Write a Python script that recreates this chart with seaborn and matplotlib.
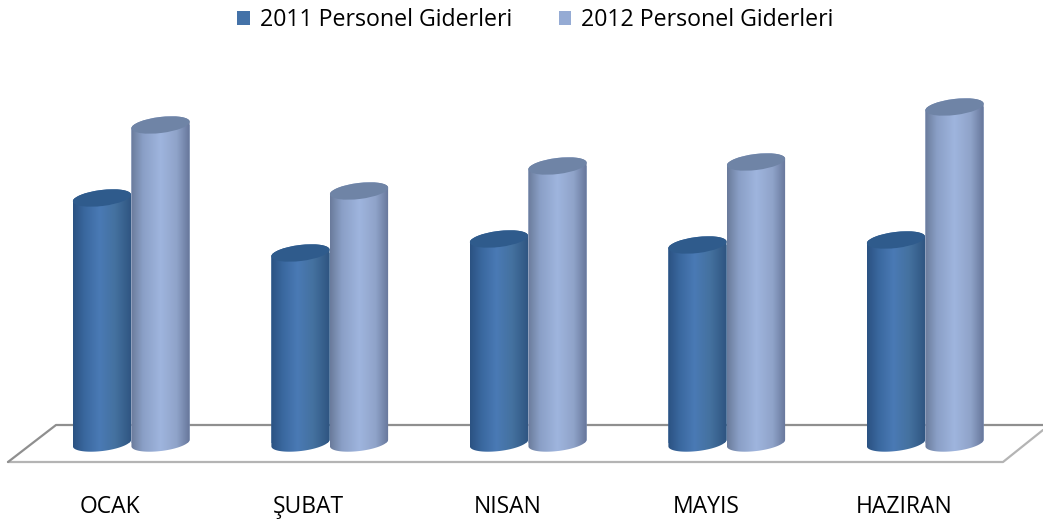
#!/usr/bin/env python3
# -*- coding: utf-8 -*-
import numpy as np
import pandas as pd
import matplotlib
matplotlib.use("Agg")
import matplotlib.pyplot as plt
from matplotlib.colors import LinearSegmentedColormap
from matplotlib.path import Path
from matplotlib.patches import Ellipse
from matplotlib.transforms import IdentityTransform, ScaledTranslation
import seaborn as sns

# === data ===
months = ["OCAK", "ŞUBAT", "NISAN", "MAYIS", "HAZIRAN"]
giderler_2011 = [245, 190, 204, 198, 203]
giderler_2012 = [318, 252, 277, 281, 336]
series_names = ["2011 Personel Giderleri", "2012 Personel Giderleri"]

# === style ===
W, H = 1043, 519
BASE_COLORS = ["#4472a8", "#95abd4"]
GRADIENTS = [
    [(0, "#2b5282"), (0.2, "#3a689f"), (0.45, "#4a7ab5"), (0.72, "#44719f"), (1, "#2e5480")],
    [(0, "#6a7b9b"), (0.2, "#8a9fc6"), (0.5, "#9fb5de"), (0.78, "#8fa3c9"), (1, "#66769a")],
]
TOP_COLORS = ["#2f5b8c", "#6f84a6"]
TILT = 7.0
ELL_H = 16
Y_BOTTOM = -25

sns.set_style("white")
plt.rcParams["font.family"] = ["Open Sans", "DejaVu Sans"]

df = pd.DataFrame({
    "ay": months * 2,
    "seri": [series_names[0]] * 5 + [series_names[1]] * 5,
    "deger": giderler_2011 + giderler_2012,
})

fig = plt.figure(figsize=(W / 100, H / 100), dpi=100)
ax = fig.add_axes([32 / W, (H - 468) / H, 992.5 / W, 425 / H])
ax.patch.set_visible(False)

sns.barplot(data=df, x="ay", y="deger", hue="seri", palette=BASE_COLORS,
            width=0.59, gap=0, saturation=1, linewidth=0, ax=ax, zorder=3)
ax.set_xlim(-0.5, 4.5)
ax.set_ylim(Y_BOTTOM, 400)
ax.set_xlabel("")
ax.set_ylabel("")
ax.set_yticks([])
sns.despine(ax=ax, left=True, bottom=True)

# ticks sit left of the groups, like the 3D chart did
ax.tick_params(axis="x", length=0, pad=19.5, labelsize=16.5, labelcolor="black")
shift = ScaledTranslation(-21 / 100, 0, fig.dpi_scale_trans)
for lab in ax.get_xticklabels():
    lab.set_transform(lab.get_transform() + shift)

# floor of the chart
def px(x, y):
    return x, H - y

for pts, col in [([(8, 462), (1003, 462), (1043, 430)], "#b4b4b4"),
                 ([(8, 462), (56, 425), (1043, 425)], "#8f8f8f")]:
    xy = np.array([px(*p) for p in pts])
    ax.plot(xy[:, 0], xy[:, 1], color=col, lw=1.6, transform=IdentityTransform(),
            clip_on=False, zorder=1, scalex=False, scaley=False)

# cylinder look on top of the seaborn bars
def body_path(cx, y_low, y_high, a, b, theta):
    t0 = np.arctan2(-b * np.sin(theta), a * np.cos(theta))
    up = np.linspace(t0, t0 + np.pi, 50)
    lo = np.linspace(t0 + np.pi, t0 + 2 * np.pi, 50)
    def pts(t, cy):
        return np.c_[cx + a * np.cos(t) * np.cos(theta) - b * np.sin(t) * np.sin(theta),
                     cy + a * np.cos(t) * np.sin(theta) + b * np.sin(t) * np.cos(theta)]
    return Path(np.vstack([pts(up, y_high), pts(lo, y_low), pts(up[:1], y_high)]), closed=True)

theta = np.deg2rad(TILT)
for s, container in enumerate(ax.containers):
    cmap = LinearSegmentedColormap.from_list(f"cyl{s}", GRADIENTS[s])
    for bar in container:
        x0, x1 = bar.get_x(), bar.get_x() + bar.get_width()
        top = bar.get_height()
        (dx0, dy0), (dx1, dy1) = ax.transData.transform([(x0, 0), (x1, top)])
        cx = (dx0 + dx1) / 2
        a = (dx1 - dx0) / 2
        clip = body_path(cx, dy0, dy1, a, ELL_H / 2, theta)
        order = 4 + s
        bar.set_clip_path(clip, IdentityTransform())
        bar.set_zorder(order)
        im = ax.imshow(np.linspace(0, 1, 128)[None, :], cmap=cmap, aspect="auto",
                       extent=(x0, x1, -15, top + 12), zorder=order)
        im.set_clip_path(clip, IdentityTransform())
        ax.add_patch(Ellipse((cx, dy1), 2 * a, ELL_H, angle=TILT, fc=TOP_COLORS[s],
                             ec="none", transform=IdentityTransform(), zorder=order + 0.1,
                             clip_on=False))
ax.set_xlim(-0.5, 4.5)
ax.set_ylim(Y_BOTTOM, 400)

handles, labels = ax.get_legend_handles_labels()
ax.legend(handles, labels, loc="center", bbox_to_anchor=(535.5 / W, (H - 20) / H),
          bbox_transform=fig.transFigure, ncol=2, frameon=False, fontsize=16.7,
          labelcolor="black", handlelength=0.52, handleheight=0.52,
          handletextpad=0.45, columnspacing=2.0)

fig.savefig("out.png", dpi=100)
